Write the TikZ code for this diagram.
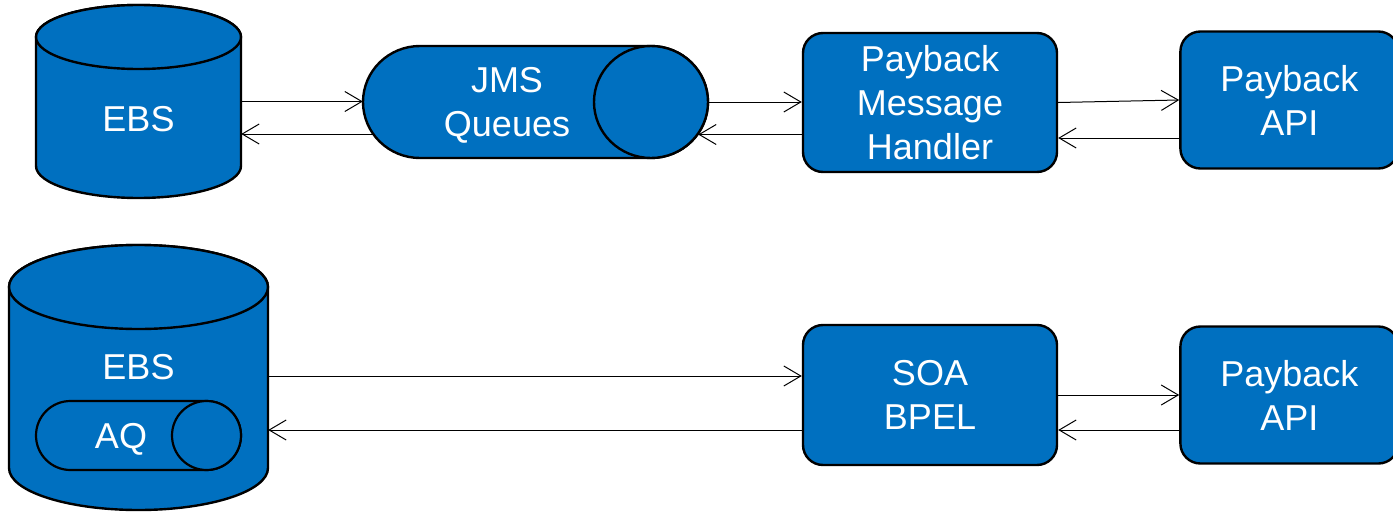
\documentclass[tikz,border=0pt]{standalone}
\usepackage{fontspec}
\setmainfont{Liberation Sans}
\usetikzlibrary{arrows.meta,positioning,backgrounds}
\definecolor{ebsblue}{RGB}{0,112,192}

\begin{document}
\begin{tikzpicture}[
  x=1pt, y=1pt,
  font=\fontsize{36}{44}\selectfont,
  shell/.style={draw, line width=2.4pt, fill=ebsblue, line join=round},
  frame/.style={inner sep=0pt, minimum width=#1},
  lbl/.style={text=white, align=center},
  box/.style={draw, rounded corners=20pt, line width=2.4pt, fill=ebsblue, text=white, align=center, minimum width=254pt, minimum height=139pt},
  api/.style={box, minimum width=218pt, minimum height=137pt},
  link/.style={line width=1pt},
  >={Straight Barb[length=17pt,width=20pt]}]

  \useasboundingbox (0,0) rectangle (1393,-514);

  % upper row: JMS queues
  \node[frame=205pt, minimum height=193pt] (ebs) at (138.5,-101.5) {};
  \filldraw[shell] (36,-37) -- (36,-166) arc[start angle=180, end angle=360, x radius=102.5, y radius=32]
    -- (241,-37) arc[start angle=0, end angle=180, x radius=102.5, y radius=32] -- cycle;
  \filldraw[shell] (138.5,-37) ellipse [x radius=102.5, y radius=32];
  \node[lbl] (ebslbl) at (138.5,-119) {EBS};

  \node[frame=345pt, minimum height=112pt] (jms) at (535.5,-102) {};
  \filldraw[shell] (420,-46) -- (651,-46) arc[start angle=90, end angle=-90, x radius=57, y radius=56]
    -- (420,-158) arc[start angle=270, end angle=90, x radius=57, y radius=56] -- cycle;
  \filldraw[shell] (651,-102) ellipse [x radius=57, y radius=56];
  \node[lbl] (jmslbl) at (507,-105) {JMS\\Queues};

  \node[box] (handler) at (930,-102.5) {Payback\\Message\\Handler};
  \node[api, right=121pt of handler, yshift=2.5pt] (api) {Payback\\API};

  \draw[link,->] (ebs.east) -- (ebs.east -| jms.west);
  \draw[link,->] (jms.east) -- (jms.east -| handler.west);
  \draw[link,->] ([yshift=-32pt]handler.west) -- ([xshift=-10pt,yshift=-32pt]handler.west -| jms.east);
  \draw[link,->] (handler.east) -- (api.west);
  \draw[link,->] ([yshift=-38pt]api.west) -- ([yshift=-38pt]api.west -| handler.east);
  \begin{scope}[on background layer]
    \draw[link,->] ([yshift=-32pt]jms.center) -- ([yshift=-32pt]jms.center -| ebs.east);
  \end{scope}

  % lower row: AQ inside EBS
  \node[frame=259pt, minimum height=265pt] (ebsaq) at (138.5,-377.5) {};
  \filldraw[shell] (9,-287) -- (9,-468) arc[start angle=180, end angle=360, x radius=129.5, y radius=42]
    -- (268,-287) arc[start angle=0, end angle=180, x radius=129.5, y radius=42] -- cycle;
  \filldraw[shell] (138.5,-287) ellipse [x radius=129.5, y radius=42];
  \node[lbl] (ebsaqlbl) at (138.5,-367) {EBS};

  \node[frame=205pt, minimum height=69pt] (aq) at (138.5,-435.5) {};
  \filldraw[shell, line width=2.2pt] (70.5,-401) -- (206.5,-401) arc[start angle=90, end angle=-90, x radius=34.5, y radius=34.5]
    -- (70.5,-470) arc[start angle=270, end angle=90, x radius=34.5, y radius=34.5] -- cycle;
  \filldraw[shell, line width=2.2pt] (206.5,-435.5) circle [radius=34.5];
  \node[lbl] (aqlbl) at (121,-439) {AQ};

  \node[box, minimum height=140pt] (soa) at (930,-395) {SOA\\BPEL};
  \node[api, right=121pt of soa] (api2) {Payback\\API};

  \draw[link,->] ([yshift=19pt]soa.west -| ebsaq.east) -- ([yshift=19pt]soa.west);
  \draw[link,->] ([yshift=-35pt]soa.west) -- ([yshift=-35pt]soa.west -| ebsaq.east);
  \draw[link,->] (soa.east) -- (soa.east -| api2.west);
  \draw[link,->] ([yshift=-35pt]api2.west) -- ([yshift=-35pt]api2.west -| soa.east);
\end{tikzpicture}
\end{document}
